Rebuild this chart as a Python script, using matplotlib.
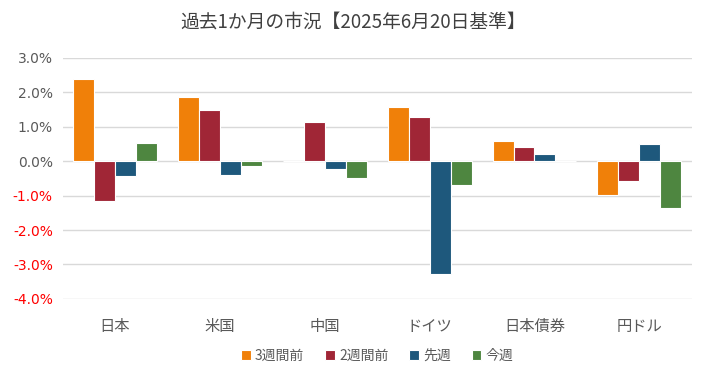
import numpy as np
import matplotlib
matplotlib.use('Agg')
import matplotlib.pyplot as plt
from matplotlib.ticker import FuncFormatter

plt.rcParams['font.family'] = ['Noto Sans CJK JP', 'DejaVu Sans']

# data (%)
categories = ['日本', '米国', '中国', 'ドイツ', '日本債券', '円ドル']
series_names = ['3週間前', '2週間前', '先週', '今週']
w3_ago = [2.39, 1.86, 0.0, 1.56, 0.59, -0.98]
w2_ago = [-1.15, 1.50, 1.13, 1.29, 0.41, -0.57]
last_week = [-0.44, -0.39, -0.24, -3.29, 0.20, 0.50]
this_week = [0.53, -0.14, -0.50, -0.70, 0.0, -1.37]
series = [w3_ago, w2_ago, last_week, this_week]
colors = ['#F08009', '#A02636', '#1E587C', '#4E8640']

fig = plt.figure(figsize=(7.07, 3.76), dpi=100)
ax = fig.add_axes([0.0885, 0.205, 0.890, 0.641])

x = np.arange(len(categories))
pitch = 0.2
for i, (vals, name, c) in enumerate(zip(series, series_names, colors)):
    ax.bar(x + (i - 1.5) * pitch, vals, width=pitch, color=c,
           edgecolor='white', linewidth=0.8, label=name, zorder=3)

ax.set_xlim(-0.5, len(categories) - 0.5)
ax.set_ylim(-4.0, 3.0)
ax.set_yticks(np.arange(-4, 3.5, 1.0))
ax.yaxis.set_major_formatter(FuncFormatter(lambda v, p: f'{v:.1f}%'))
ax.grid(axis='y', color='#d9d9d9', linewidth=1.0, zorder=0)
for s in ax.spines.values():
    s.set_visible(False)
ax.tick_params(axis='both', length=0, labelsize=11, colors='#595959')
ax.tick_params(axis='y', pad=7)
ax.tick_params(axis='x', pad=14)
ax.set_xticks(x)
ax.set_xticklabels(categories)
for lbl, v in zip(ax.get_yticklabels(), ax.get_yticks()):
    lbl.set_color('#FF0000' if v < 0 else '#595959')
    lbl.set_fontfamily('DejaVu Sans')
    lbl.set_fontsize(10)

fig.text(0.5, 0.94, '過去1か月の市況【2025年6月20日基準】', ha='center', va='center',
         fontsize=13.5, color='#404040')

ax.legend(loc='upper center', bbox_to_anchor=(0.5, -0.155), ncol=4, frameon=False,
          fontsize=10, handlelength=0.7, handleheight=0.7, handletextpad=0.3,
          columnspacing=1.5, labelcolor='#595959')

plt.savefig('out.png', dpi=100)
